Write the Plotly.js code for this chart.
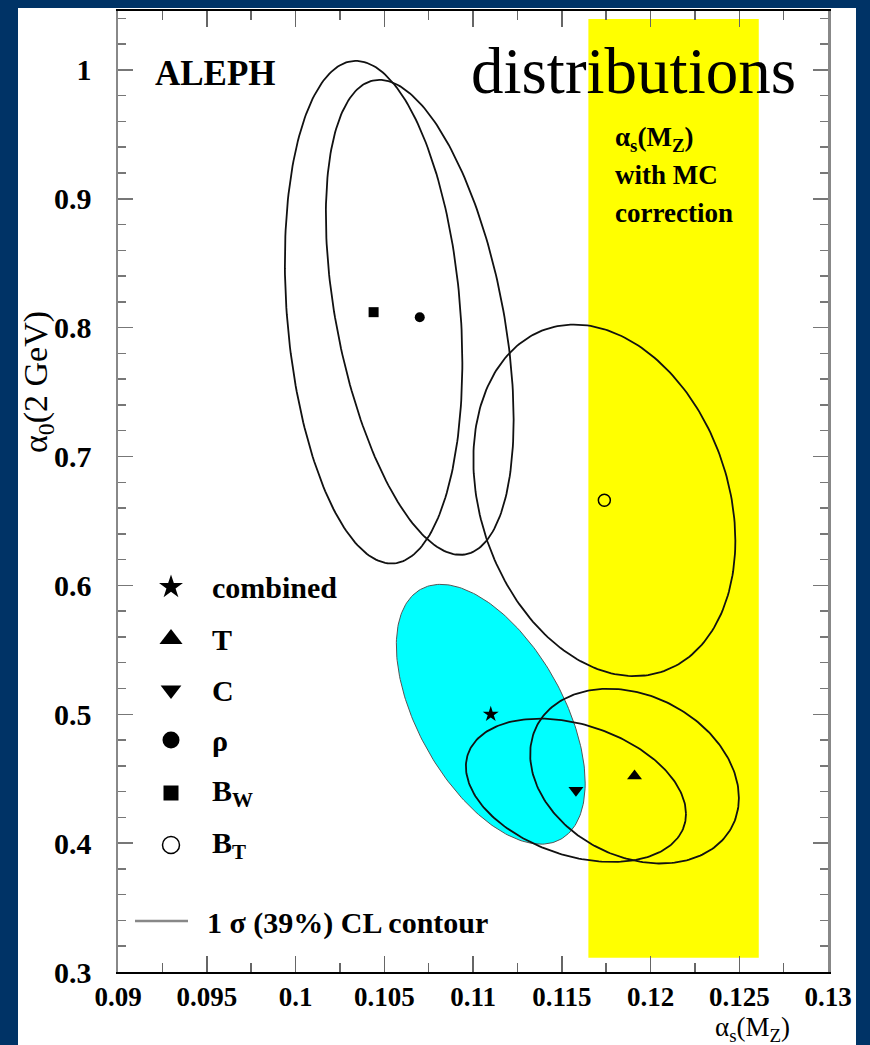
<!DOCTYPE html>
<html><head><meta charset="utf-8">
<script src="https://cdn.plot.ly/plotly-3.0.1.min.js"></script>
<style>html,body{margin:0;padding:0;background:#003366;} #chart{width:870px;height:1045px;}</style>
</head><body><div id="chart"></div>
<script>
// ---- data ----
const fitNames   = ['combined', 'T', 'C', 'rho', 'B_W', 'B_T'];
const alphaS     = [0.1110, 0.1191, 0.1158, 0.1070, 0.1044, 0.1174];   // alpha_s(M_Z) central values
const alpha0     = [0.500, 0.452, 0.441, 0.808, 0.812, 0.666];         // alpha_0(2 GeV) central values
const sigmaS     = [0.00532, 0.00588, 0.0062, 0.00529, 0.0050, 0.00738];
const sigma0     = [0.1008, 0.0678, 0.0556, 0.1843, 0.195, 0.1364];
const correlation= [-0.53, -0.25, -0.33, -0.43, -0.20, -0.23];
const legendLabels = ['combined', 'T', 'C', 'ρ', 'B<sub>W</sub>', 'B<sub>T</sub>'];
const mcBandX = [0.1165, 0.1261];   // alpha_s(M_Z) band with MC correction
const mcBandY = [0.311, 1.0395];
const xTickVals = [0.09, 0.095, 0.1, 0.105, 0.11, 0.115, 0.12, 0.125, 0.13];
const xTickText = ['0.09', '0.095', '0.1', '0.105', '0.11', '0.115', '0.12', '0.125', '0.13'];
const yTickVals = [0.3, 0.4, 0.5, 0.6, 0.7, 0.8, 0.9, 1.0];
const yTickText = ['0.3', '0.4', '0.5', '0.6', '0.7', '0.8', '0.9', '1'];

// ---- styles ----
const symbols   = ['star', 'triangle-up', 'triangle-down', 'circle', 'square', 'circle-open'];
const plotSizes = [12, 13, 13, 10, 10, 12];
const legSizes  = [18, 20, 18, 17, 15, 17];
const serif = 'Liberation Serif, Times New Roman, serif';

// pixel -> paper helpers (plot area 118..828 x, 11..972 y)
const L = 118, R = 828, T = 11, B = 972;
const px = v => (v - L) / (R - L);
const py = v => (B - v) / (B - T);

function contour(i) {
  const xs = [], ys = [], n = 240;
  const r = correlation[i], s = Math.sqrt(1 - r * r);
  for (let k = 0; k <= n; k++) {
    const t = 2 * Math.PI * k / n;
    xs.push(alphaS[i] + sigmaS[i] * Math.cos(t));
    ys.push(alpha0[i] + sigma0[i] * (r * Math.cos(t) + s * Math.sin(t)));
  }
  return {xs, ys};
}

const traces = [];
fitNames.forEach((name, i) => {
  const c = contour(i);
  if (i === 0) {
    traces.push({x: c.xs, y: c.ys, mode: 'lines', fill: 'toself', fillcolor: '#00FFFF',
      line: {color: '#555', width: 1}, hoverinfo: 'skip', showlegend: false});
  } else {
    traces.push({x: c.xs, y: c.ys, mode: 'lines', line: {color: '#111', width: 1.8},
      hoverinfo: 'skip', showlegend: false});
  }
});
fitNames.forEach((name, i) => {
  traces.push({x: [alphaS[i]], y: [alpha0[i]], mode: 'markers', name: name, showlegend: false,
    marker: {symbol: symbols[i], size: plotSizes[i], color: '#000',
      line: {color: '#000', width: symbols[i] === 'circle-open' ? 1.5 : 0}}});
});
// legend symbols on an overlay axis pair spanning the plot area
const legRowsY = [587, 639, 690, 740, 793, 845];
legRowsY.forEach((yy, i) => {
  traces.push({x: [px(171)], y: [py(yy)], xaxis: 'x2', yaxis: 'y2', mode: 'markers',
    showlegend: false, hoverinfo: 'skip', cliponaxis: false,
    marker: {symbol: symbols[i], size: legSizes[i], color: '#000',
      line: {color: '#000', width: symbols[i] === 'circle-open' ? 1.5 : 0}}});
});

const annotations = [
  {text: 'ALEPH', x: px(153), y: py(73), xanchor: 'left', yanchor: 'middle', font: {family: serif, size: 35, weight: 'bold', color: '#000'}},
  {text: 'distributions', x: px(469), y: py(71), xanchor: 'left', yanchor: 'middle', font: {family: serif, size: 65, color: '#000'}},
  {text: 'α<sub>s</sub>(M<sub>Z</sub>)', x: px(613), y: py(139), xanchor: 'left', yanchor: 'middle', font: {family: serif, size: 27, weight: 'bold', color: '#000'}},
  {text: 'with MC', x: px(613), y: py(175), xanchor: 'left', yanchor: 'middle', font: {family: serif, size: 27, weight: 'bold', color: '#000'}},
  {text: 'correction', x: px(613), y: py(213), xanchor: 'left', yanchor: 'middle', font: {family: serif, size: 27, weight: 'bold', color: '#000'}},
  {text: '1 σ (39%) CL contour', x: px(205), y: py(923), xanchor: 'left', yanchor: 'middle', font: {family: serif, size: 30, weight: 'bold', color: '#000'}},
  {text: 'α<sub>0</sub>(2 GeV)', x: px(38), y: py(382), textangle: -90, xanchor: 'center', yanchor: 'middle', font: {family: serif, size: 34, color: '#000'}},
  {text: 'α<sub>s</sub>(M<sub>Z</sub>)', x: px(752), y: py(1029), xanchor: 'center', yanchor: 'middle', font: {family: serif, size: 27, color: '#000'}}
];
legendLabels.forEach((lab, i) => {
  annotations.push({text: lab, x: px(210), y: py(legRowsY[i]), xanchor: 'left', yanchor: 'middle',
    font: {family: serif, size: 30, weight: 'bold', color: '#000'}});
});
annotations.forEach(a => { a.xref = 'paper'; a.yref = 'paper'; a.showarrow = false; });

const shapes = [
  {type: 'rect', xref: 'paper', yref: 'paper', x0: px(18), x1: px(856), y0: py(1060), y1: py(8),
   fillcolor: '#FFFFFF', line: {width: 0}, layer: 'below'},
  {type: 'rect', xref: 'x', yref: 'y', x0: mcBandX[0], x1: mcBandX[1], y0: mcBandY[0], y1: mcBandY[1],
   fillcolor: '#FFFF00', line: {width: 0}, layer: 'below'},
  {type: 'rect', xref: 'paper', yref: 'paper', x0: px(607), x1: px(742), y0: py(237), y1: py(110),
   fillcolor: '#FFFFFF', line: {width: 0}, layer: 'below'},
  {type: 'line', xref: 'paper', yref: 'paper', x0: px(135), x1: px(188), y0: py(921), y1: py(921),
   line: {color: '#888', width: 2.5}}
];

const layout = {
  width: 870, height: 1045,
  margin: {l: L, r: 870 - R, t: T, b: 1045 - B},
  paper_bgcolor: '#003366', plot_bgcolor: '#FFFFFF',
  showlegend: false,
  xaxis: {range: [0.09, 0.13], tickmode: 'array', tickvals: xTickVals, ticktext: xTickText,
    ticks: 'inside', ticklen: 16, tickwidth: 1.5, tickcolor: '#666',
    minor: {dtick: 0.0025, tick0: 0.09, ticks: 'inside', ticklen: 9, tickwidth: 1.5, tickcolor: '#666'},
    showline: true, linecolor: '#000', linewidth: 2, mirror: 'allticks',
    showgrid: false, zeroline: false, tickfont: {family: serif, size: 27, weight: 'bold', color: '#000'}},
  yaxis: {range: [0.3, 1.0457], tickmode: 'array', tickvals: yTickVals, ticktext: yTickText,
    ticks: 'inside', ticklen: 15, tickwidth: 1.5, tickcolor: '#777',
    minor: {dtick: 0.02, tick0: 0.3, ticks: 'inside', ticklen: 8, tickwidth: 1.5, tickcolor: '#777'},
    showline: true, linecolor: '#888', linewidth: 2.5, mirror: 'allticks',
    showgrid: false, zeroline: false, tickfont: {family: serif, size: 30, weight: 'bold', color: '#000'}, ticklabelstandoff: 18},
  xaxis2: {overlaying: 'x', range: [0, 1], visible: false, fixedrange: true},
  yaxis2: {overlaying: 'y', range: [0, 1], visible: false, fixedrange: true},
  annotations: annotations,
  shapes: shapes
};

Plotly.newPlot('chart', traces, layout, {displayModeBar: false, staticPlot: true});
</script>
</body></html>
